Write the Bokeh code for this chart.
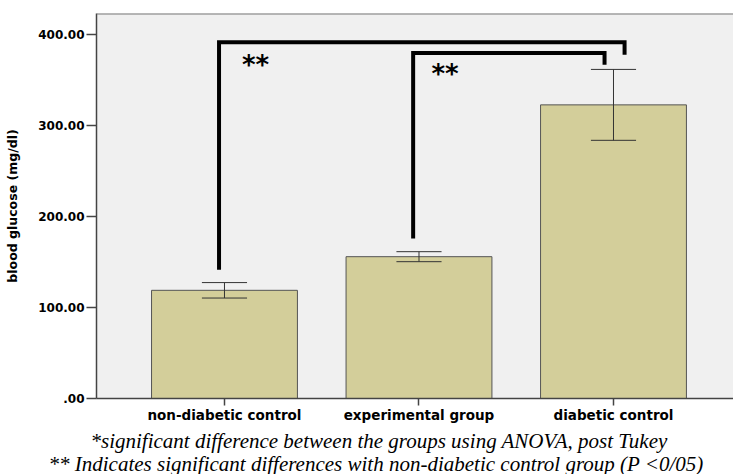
from bokeh.plotting import figure
from bokeh.models import Range1d, FixedTicker, Span, Title
from bokeh.embed import file_html
from bokeh.resources import INLINE
from bokeh.core.properties import value

# ---------------- data ----------------
categories = ["non-diabetic control", "experimental group", "diabetic control"]
means = [119, 156, 323]
errors = [8.5, 5.5, 39]
y_ticks = [0, 100, 200, 300, 400]
y_tick_labels = [".00", "100.00", "200.00", "300.00", "400.00"]
y_label = "blood glucose (mg/dl)"
# significance brackets
bracket_left = [0, 1]
bracket_right = [2, 2]
bracket_top = [392, 380]
bracket_left_end = [141.5, 176]
bracket_right_end = [378, 367]
sig_marks = ["**", "**"]
sig_y = [366.5, 357.5]
footnotes = [
    "*significant difference between the groups using ANOVA, post Tukey",
    "** Indicates significant differences with non-diabetic control group (P <0/05)",
]

# ---------------- styles ----------------
BG = "#F0F0F0"
BAR = "#D3CE9A"
EDGE = "#555555"
ERR = "#333333"
AXIS = "#444444"
FONT = "DejaVu Sans"

xs = list(range(len(categories)))

p = figure(width=733, height=474,
           x_range=Range1d(-0.658, 2.617), y_range=Range1d(0, 423.5),
           output_backend="svg", toolbar_location=None,
           min_border_left=96, min_border_right=0, min_border_top=13, min_border_bottom=76)
p.background_fill_color = BG
p.border_fill_color = "white"
p.outline_line_color = None
p.xgrid.visible = False
p.ygrid.visible = False

# bars
p.vbar(x=xs, top=means, width=0.75, bottom=0, fill_color=BAR, line_color=EDGE, line_width=1)

# error bars
lo = [m - e for m, e in zip(means, errors)]
hi = [m + e for m, e in zip(means, errors)]
cap = 0.116
p.segment(x0=xs, y0=lo, x1=xs, y1=hi, line_color=ERR, line_width=1)
p.segment(x0=[x - cap for x in xs], y0=hi, x1=[x + cap for x in xs], y1=hi, line_color=ERR, line_width=1)
p.segment(x0=[x - cap for x in xs], y0=lo, x1=[x + cap for x in xs], y1=lo, line_color=ERR, line_width=1)

# brackets
left_off = [-0.028, -0.030]
right_off = [0.057, -0.046]
bxs, bys = [], []
for l, r, t, le, re_, lo_, ro_ in zip(bracket_left, bracket_right, bracket_top,
                                      bracket_left_end, bracket_right_end, left_off, right_off):
    bxs.append([l + lo_, l + lo_, r + ro_, r + ro_])
    bys.append([le, t, t, re_])
p.multi_line(xs=bxs, ys=bys, line_color="black", line_width=4, line_join="miter", line_cap="butt")

mark_off = [0.16, 0.134]
p.text(x=[l + o for l, o in zip(bracket_left, mark_off)], y=sig_y, text=sig_marks,
       text_font=value(FONT), text_font_style="bold", text_font_size="26px",
       text_align="center", text_baseline="middle", text_color="black")

# top frame line
p.add_layout(Span(location=423.5, dimension="width", line_color="#777777", line_width=2))

# axes
p.xaxis.ticker = FixedTicker(ticks=xs)
p.xaxis.major_label_overrides = {x: c for x, c in zip(xs, categories)}
p.xaxis.major_tick_out = 7
p.xaxis.major_tick_in = 0
p.xaxis.minor_tick_line_color = None
p.xaxis.axis_line_color = AXIS
p.xaxis.axis_line_width = 1.5
p.xaxis.major_tick_line_color = AXIS
p.xaxis.major_tick_line_width = 1.5
p.xaxis.major_label_text_font = FONT
p.xaxis.major_label_text_font_style = "bold"
p.xaxis.major_label_text_font_size = "13.5px"
p.xaxis.major_label_text_color = "black"
p.xaxis.major_label_standoff = 1

p.yaxis.ticker = FixedTicker(ticks=y_ticks)
p.yaxis.major_label_overrides = {t: l for t, l in zip(y_ticks, y_tick_labels)}
p.yaxis.major_tick_out = 10
p.yaxis.major_tick_in = 0
p.yaxis.minor_tick_line_color = None
p.yaxis.axis_line_color = AXIS
p.yaxis.axis_line_width = 1.5
p.yaxis.major_tick_line_color = AXIS
p.yaxis.major_tick_line_width = 1.5
p.yaxis.major_label_text_font = FONT
p.yaxis.major_label_text_font_style = "bold"
p.yaxis.major_label_text_font_size = "12px"
p.yaxis.major_label_text_color = "black"
p.yaxis.major_label_standoff = 2
p.yaxis.axis_label = y_label
p.yaxis.axis_label_text_font = FONT
p.yaxis.axis_label_text_font_style = "bold"
p.yaxis.axis_label_text_font_size = "12.5px"
p.yaxis.axis_label_text_color = "black"
p.yaxis.axis_label_standoff = 15

# footnotes (stacked below the x axis)
foot_offset = [-6, -48]
foot_standoff = [2, -8]
for t, off, so in zip(footnotes, foot_offset, foot_standoff):
    p.add_layout(Title(text=t, align="left", offset=off, standoff=so,
                       text_font="Liberation Serif", text_font_style="italic",
                       text_font_size="21px", text_color="black"), "below")

open("out.html", "w").write(file_html(p, INLINE))
